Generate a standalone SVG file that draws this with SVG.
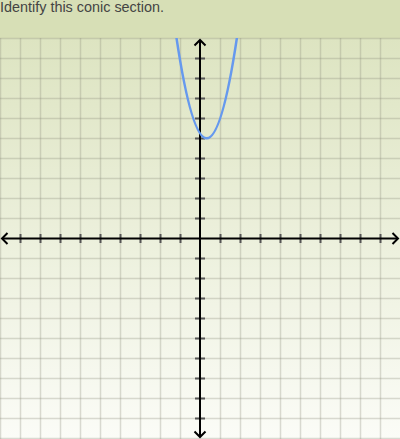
<svg xmlns="http://www.w3.org/2000/svg" width="400" height="439" viewBox="0 0 400 439">
  <defs>
    <linearGradient id="bg" x1="0" y1="0" x2="0" y2="1">
      <stop offset="0" stop-color="#dde4c1"/>
      <stop offset="1" stop-color="#fbfcf7"/>
    </linearGradient>
    <clipPath id="plot">
      <rect x="0" y="38" width="400" height="401"/>
    </clipPath>
    <style>
      .grid { stroke: #8a8a7a; stroke-opacity: 0.3; stroke-width: 1.5; fill: none; }
      .axis { stroke: #000; stroke-width: 2; fill: none; }
      .tick { stroke: #555; stroke-width: 2; fill: none; }
      .curve { stroke: #6699ee; stroke-width: 2.5; fill: none; }
      .title { font-family: "Liberation Sans", Arial, sans-serif; font-size: 14.4px; fill: #444; }
    </style>
  </defs>

  <rect x="0" y="0" width="400" height="38" fill="#d7dfb6"/>
  <rect x="0" y="38" width="400" height="401" fill="url(#bg)"/>
  <text class="title" x="0" y="12">Identify this conic section.</text>

  <g id="grid" class="grid">
    <path d="M0.5,38V439 M20.5,38V439 M40.5,38V439 M60.5,38V439 M80.5,38V439 M100.5,38V439 M120.5,38V439 M140.5,38V439 M160.5,38V439 M180.5,38V439 M220.5,38V439 M240.5,38V439 M260.5,38V439 M280.5,38V439 M300.5,38V439 M320.5,38V439 M340.5,38V439 M360.5,38V439 M380.5,38V439"/>
    <path d="M0,38.5H400 M0,58.5H400 M0,78.5H400 M0,98.5H400 M0,118.5H400 M0,138.5H400 M0,158.5H400 M0,178.5H400 M0,198.5H400 M0,218.5H400 M0,258.5H400 M0,278.5H400 M0,298.5H400 M0,318.5H400 M0,338.5H400 M0,358.5H400 M0,378.5H400 M0,398.5H400 M0,418.5H400 M0,438.5H400"/>
  </g>

  <g id="connectors">
    <g id="ticks" class="tick">
      <path d="M20.5,234V243 M40.5,234V243 M60.5,234V243 M80.5,234V243 M100.5,234V243 M120.5,234V243 M140.5,234V243 M160.5,234V243 M180.5,234V243 M220.5,234V243 M240.5,234V243 M260.5,234V243 M280.5,234V243 M300.5,234V243 M320.5,234V243 M340.5,234V243 M360.5,234V243 M380.5,234V243"/>
      <path d="M195,58.5H205 M195,78.5H205 M195,98.5H205 M195,118.5H205 M195,138.5H205 M195,158.5H205 M195,178.5H205 M195,198.5H205 M195,218.5H205 M195,258.5H205 M195,278.5H205 M195,298.5H205 M195,318.5H205 M195,338.5H205 M195,358.5H205 M195,378.5H205 M195,398.5H205 M195,418.5H205"/>
    </g>
    <g id="axes" class="axis">
      <path d="M2,238.5H398"/>
      <path d="M200,40V437"/>
      <path d="M7.5,233L2,238.5L7.5,244"/>
      <path d="M392.5,233L398,238.5L392.5,244"/>
      <path d="M194.5,45.5L200,40L205.5,45.5"/>
      <path d="M194.5,431.5L200,437L205.5,431.5"/>
    </g>
  </g>

  <g id="parabola" clip-path="url(#plot)">
    <path class="curve" d="M175.7,32.6Q206.7,244 237.7,32.6"/>
  </g>
</svg>
